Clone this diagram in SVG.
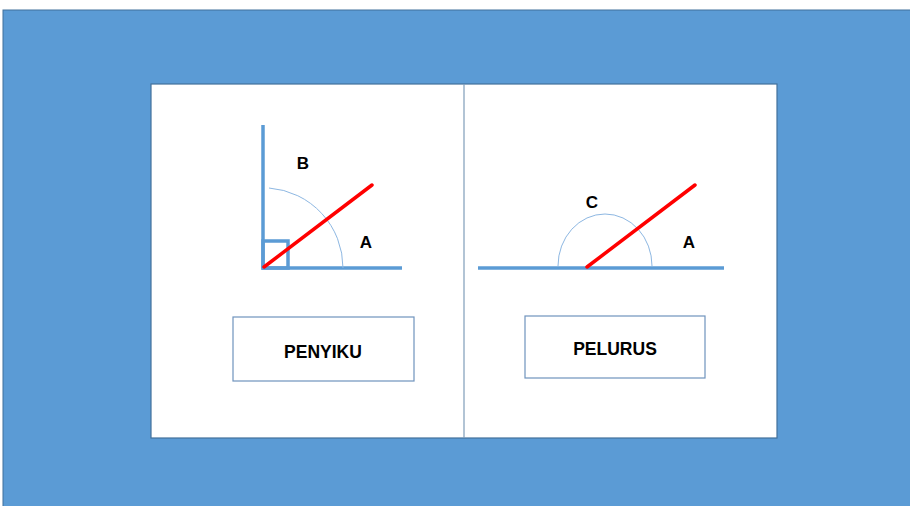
<svg xmlns="http://www.w3.org/2000/svg" width="910" height="506" viewBox="0 0 910 506">
<style>
.ln{stroke:#5B9BD5;stroke-width:3.5;fill:none}
.red{stroke:#FF0000;stroke-width:3.5;fill:none;stroke-linecap:round}
.arc{stroke:#8DB7E2;stroke-width:1;fill:none}
.lbl{font-family:"Liberation Sans",Arial,sans-serif;font-weight:bold;font-size:17px;fill:#000}
.box{fill:#fff;stroke:#6F93BD;stroke-width:1.2}
.bt{font-family:"Liberation Sans",Arial,sans-serif;font-weight:bold;font-size:17.5px;fill:#000;text-anchor:middle}
</style>
<rect x="3" y="10" width="910" height="500" fill="#5B9BD5" stroke="#41719C" stroke-width="1"/>
<rect x="151" y="84" width="626" height="354" fill="#fff" stroke="#41719C" stroke-width="1.2"/>
<line x1="464" y1="84" x2="464" y2="438" stroke="#7F9DB9" stroke-width="1.2"/>
<g id="penyiku">
<line class="ln" x1="263" y1="125" x2="263" y2="268"/>
<line class="ln" x1="261.5" y1="268" x2="402" y2="268"/>
<rect x="263" y="241" width="25" height="27" class="ln" stroke-width="2.5"/>
<path class="arc" d="M269 188 A80 80 0 0 1 343 268"/>
<line class="red" x1="264" y1="267" x2="372" y2="185"/>
<text class="lbl" x="303" y="169" text-anchor="middle">B</text>
<text class="lbl" x="366" y="248" text-anchor="middle">A</text>
<rect class="box" x="233" y="317" width="181" height="64"/>
<text class="bt" x="323" y="358">PENYIKU</text>
</g>
<g id="pelurus">
<line class="ln" x1="478" y1="268" x2="724" y2="268"/>
<path class="arc" d="M558 266 A47 52 0 0 1 652 266"/>
<line class="red" x1="587" y1="267" x2="695" y2="185"/>
<text class="lbl" x="592" y="208" text-anchor="middle">C</text>
<text class="lbl" x="689" y="248" text-anchor="middle">A</text>
<rect class="box" x="525" y="316" width="180" height="62"/>
<text class="bt" x="615" y="355">PELURUS</text>
</g>
<g id="connectors"/>
</svg>
